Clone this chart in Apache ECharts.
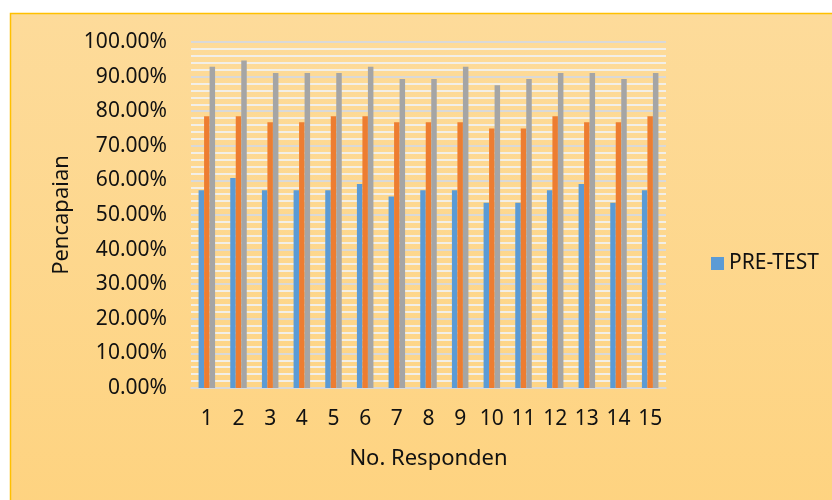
<!DOCTYPE html>
<html>
<head>
<meta charset="utf-8">
<script src="https://cdn.jsdelivr.net/npm/echarts@6/dist/echarts.min.js"></script>
<style>
  html, body { margin: 0; padding: 0; background: #ffffff; }
  #chart { width: 832px; height: 500px; }
</style>
</head>
<body>
<div id="chart"></div>
<script>
// Respondent numbers on the category axis
const responden = ['1','2','3','4','5','6','7','8','9','10','11','12','13','14','15'];

// Achievement per respondent, in percent
const preTest = [57.14, 60.71, 57.14, 57.14, 57.14, 58.93, 55.36, 57.14, 57.14, 53.57, 53.57, 57.14, 58.93, 53.57, 57.14];
const siklus1 = [78.57, 78.57, 76.79, 76.79, 78.57, 78.57, 76.79, 76.79, 76.79, 75.00, 75.00, 78.57, 76.79, 76.79, 78.57];
const siklus2 = [92.86, 94.64, 91.07, 91.07, 91.07, 92.86, 89.29, 89.29, 92.86, 87.50, 89.29, 91.07, 91.07, 89.29, 91.07];

const FONT = '"Noto Sans", "Open Sans", sans-serif';
const TEXT = '#111111';

const chart = echarts.init(document.getElementById('chart'), null, { renderer: 'canvas' });

const barBase = { type: 'bar', barWidth: 5.5, barGap: '0%' };

chart.setOption({
  animation: false,
  textStyle: { fontFamily: FONT },
  graphic: [{
    type: 'rect',
    z: -10,
    silent: true,
    shape: { x: 10.5, y: 13.5, width: 830, height: 495 },
    style: {
      fill: new echarts.graphic.LinearGradient(0, 0, 0, 1, [
        { offset: 0, color: '#fddb9a' },
        { offset: 1, color: '#fed380' }
      ]),
      stroke: '#ffc000',
      lineWidth: 1.5
    }
  }],
  grid: { left: 191, right: 166, top: 42, bottom: 112, containLabel: false },
  legend: {
    data: ['PRE-TEST'],
    left: 706,
    top: 248,
    icon: 'rect',
    itemWidth: 13,
    itemHeight: 13,
    itemGap: 6,
    textStyle: { fontFamily: FONT, fontSize: 21, color: TEXT }
  },
  xAxis: {
    type: 'category',
    data: responden,
    name: 'No. Responden',
    nameLocation: 'middle',
    nameGap: 60,
    nameTextStyle: { fontFamily: FONT, fontSize: 22, color: TEXT },
    axisLine: { show: true, lineStyle: { color: '#d9d9d9', width: 1.5 } },
    axisTick: { show: false },
    axisLabel: { fontFamily: FONT, fontSize: 21, color: TEXT, margin: 21 }
  },
  yAxis: {
    type: 'value',
    min: 0,
    max: 100,
    interval: 10,
    name: 'Pencapaian',
    nameLocation: 'middle',
    nameGap: 117,
    nameTextStyle: { fontFamily: FONT, fontSize: 22, color: TEXT },
    axisLine: { show: false },
    axisTick: { show: false },
    axisLabel: {
      fontFamily: FONT, fontSize: 21, color: TEXT, margin: 24,
      formatter: v => v.toFixed(2) + '%'
    },
    splitLine: { show: true, lineStyle: { color: '#d9d9d9', width: 2 } },
    minorTick: { show: false, splitNumber: 5 },
    minorSplitLine: { show: true, lineStyle: { color: '#f2efe8', width: 2 } }
  },
  series: [
    Object.assign({ name: 'PRE-TEST', data: preTest, itemStyle: { color: '#5b9bd5' } }, barBase),
    Object.assign({ name: 'SIKLUS I', data: siklus1, itemStyle: { color: '#ed7d31' } }, barBase),
    Object.assign({ name: 'SIKLUS II', data: siklus2, itemStyle: { color: '#a5a5a5' } }, barBase)
  ]
});
</script>
</body>
</html>
